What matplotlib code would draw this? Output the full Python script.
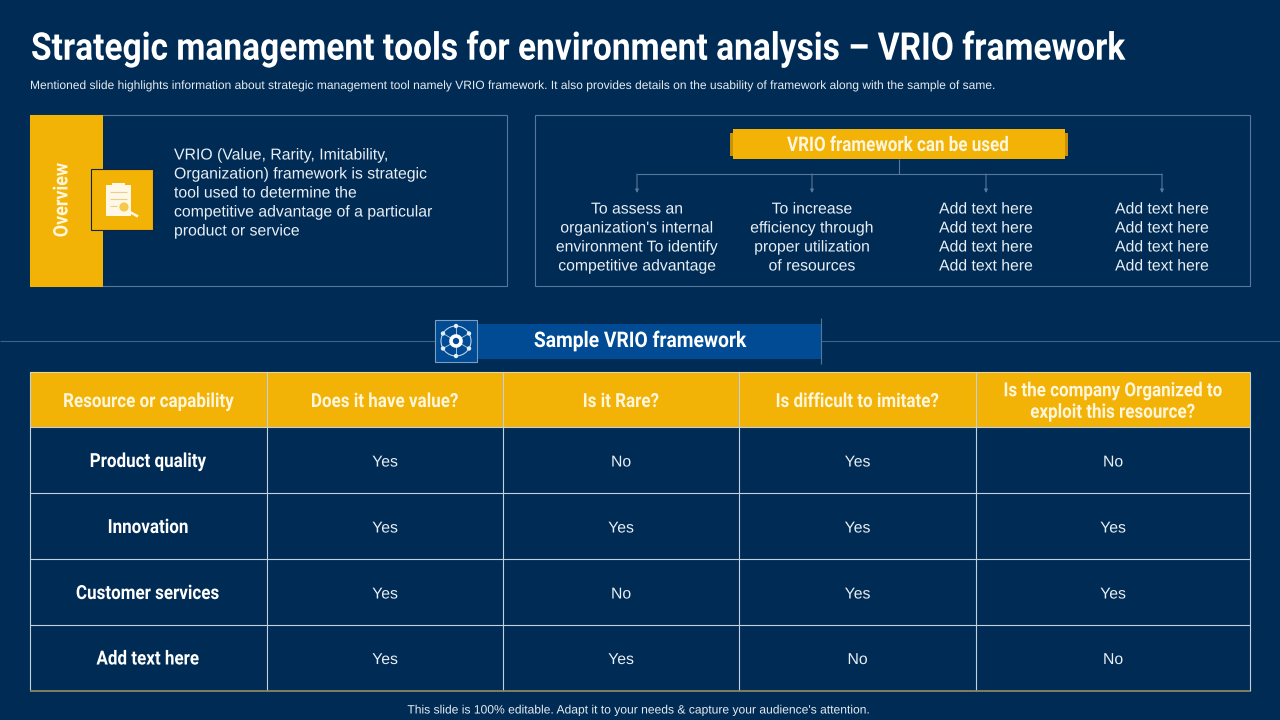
import matplotlib
matplotlib.use("Agg")
import matplotlib.pyplot as plt
from matplotlib.patches import Rectangle, Circle
from matplotlib.patheffects import AbstractPathEffect
from matplotlib.transforms import Affine2D

NAVY = '#002B55'
GOLD = '#F2B206'
BLUE = '#004B93'
LINE = '#55789B'
GRID = '#C3D0DE'
CREAM = '#FFF6DC'
SOFT = '#E9EFF5'

CONDENSED = 'Roboto'
BODY = 'Liberation Sans'

title = 'Strategic management tools for environment analysis – VRIO framework'
subtitle = ('Mentioned slide highlights information about strategic management tool namely VRIO framework. '
            'It also provides details on the usability of framework along with the sample of same.')
overview = ['VRIO (Value, Rarity, Imitability,', 'Organization) framework is strategic',
            'tool used to determine the', 'competitive advantage of a particular', 'product or service']
uses = [
    ['To assess an', "organization's internal", 'environment To identify', 'competitive advantage'],
    ['To increase', 'efficiency through', 'proper utilization', 'of resources'],
    ['Add text here'] * 4,
    ['Add text here'] * 4,
]
use_x = [637, 812, 986, 1162]
headers = ['Resource or capability', 'Does it have value?', 'Is it Rare?', 'Is difficult to imitate?',
           'Is the company Organized to\nexploit this resource?']
resources = ['Product quality', 'Innovation', 'Customer services', 'Add text here']
values = [
    ['Yes', 'No', 'Yes', 'No'],
    ['Yes', 'Yes', 'Yes', 'Yes'],
    ['Yes', 'No', 'Yes', 'Yes'],
    ['Yes', 'Yes', 'No', 'No'],
]
col_edges = [30, 267, 503, 739, 976, 1250]
row_edges = [428, 494, 560, 626, 691]


class Squeeze(AbstractPathEffect):
    # narrows the glyphs around an anchor, no condensed font is installed
    def __init__(self, anchor=0, sx=1.0, vertical=False):
        super().__init__()
        self.anchor, self.sx, self.vertical = anchor, sx, vertical

    def draw_path(self, renderer, gc, tpath, affine, rgbFace=None):
        t = Affine2D()
        if self.vertical:
            t.translate(0, -self.anchor).scale(1, self.sx).translate(0, self.anchor)
        else:
            t.translate(-self.anchor, 0).scale(self.sx, 1).translate(self.anchor, 0)
        renderer.draw_path(gc, tpath, affine + t, rgbFace)


fig = plt.figure(figsize=(12.8, 7.2), dpi=100, facecolor=NAVY)
ax = fig.add_axes([0, 0, 1, 1])
ax.set_xlim(0, 1280)
ax.set_ylim(720, 0)
ax.axis('off')


def box(x, y, w, h, fc='none', ec='none', lw=0.8, z=2):
    ax.add_patch(Rectangle((x, y), w, h, facecolor=fc, edgecolor=ec, linewidth=lw, zorder=z))


def line(xs, ys, c=LINE, lw=0.8, z=1):
    ax.plot(xs, ys, color=c, linewidth=lw, zorder=z, solid_capstyle='butt')


def txt(x, y, s, size, fam=BODY, weight='normal', ha='center', c=SOFT, sx=1.0, rotation=0, linespacing=1.2):
    t = ax.text(x, y, s, fontsize=size, family=fam, weight=weight, ha=ha, va='center', color=c, zorder=6,
                rotation=rotation, linespacing=linespacing)
    if rotation:
        t.set_path_effects([Squeeze(720 - y, sx, vertical=True)])
    else:
        t.set_path_effects([Squeeze(x, sx)])
    return t


# title
txt(31, 49, title, 27.5, CONDENSED, 'bold', ha='left', c='white', sx=0.877)
txt(30, 86, subtitle, 8.66, ha='left', c='#E6EBF0')

# overview panel
box(30, 115, 477, 171, ec=LINE)
box(30, 115, 73, 172, fc=GOLD, z=3)
txt(62, 200, 'Overview', 14.5, CONDENSED, 'bold', c=CREAM, sx=0.89, rotation=90)
box(91, 169, 62, 61, fc=GOLD, ec='#10243E', z=4)
# clipboard icon
box(106, 185, 25, 31, fc='#FFF8E6', z=5)
box(112, 183, 13, 4, fc='#FFF8E6', z=5)
for ly in [192, 199, 206]:
    line([110, 127], [ly, ly], c='#E8CF8C', lw=0.8, z=5)
ax.add_patch(Circle((124, 207), 5.5, facecolor='#F5C94A', edgecolor='#FFF8E6', linewidth=1.3, zorder=6))
line([128, 138], [211, 216.5], c='#FFF8E6', lw=1.8, z=6)
for i, s in enumerate(overview):
    txt(174, 155 + i * 19, s, 11.38, ha='left')

# usage panel
box(535, 115, 715, 171, ec=LINE)
box(730, 133, 338, 23, fc='#C8930A', z=3)
box(733, 129, 332, 30, fc=GOLD, z=4)
txt(898, 145.5, 'VRIO framework can be used', 14.5, CONDENSED, 'bold', c=CREAM, sx=0.845)
line([899, 899], [159, 174])
line([use_x[0], use_x[3]], [174, 174])
for x, rows in zip(use_x, uses):
    ax.annotate('', xy=(x, 193), xytext=(x, 174),
                arrowprops=dict(arrowstyle='-|>', color=LINE, lw=0.8, mutation_scale=5, shrinkA=0, shrinkB=0),
                zorder=2)
    for i, s in enumerate(rows):
        txt(x, 209 + i * 19, s, 11.35)

# section banner
line([0, 1280], [341, 341], c='#3F6285')
box(436, 324, 385, 35, fc=BLUE, z=3)
line([821, 821], [318, 364], c='#54779A', z=4)
box(435, 320, 42, 42, fc=BLUE, ec='#7E9EBE', z=4)
ax.add_patch(Circle((456, 341), 15, facecolor='none', edgecolor='#BFD3E6', linewidth=0.8, zorder=5))
for dx, dy in [(0, -15), (13, -7.5), (13, 7.5), (0, 15), (-13, 7.5), (-13, -7.5)]:
    line([456, 456 + dx], [341, 341 + dy], c='#BFD3E6', lw=0.6, z=5)
    ax.add_patch(Circle((456 + dx, 341 + dy), 2.2, facecolor='#E4EEF7', zorder=6))
ax.add_patch(Circle((456, 341), 5, facecolor=BLUE, edgecolor='white', linewidth=2.6, zorder=6))
txt(640, 341, 'Sample VRIO framework', 15.5, CONDENSED, 'bold', c='white', sx=0.895)

# table
box(30, 372, 1220, 56, fc=GOLD, z=2)
for j, head in enumerate(headers):
    cx = (col_edges[j] + col_edges[j + 1]) / 2
    txt(cx, 402, head, 14, CONDENSED, 'bold', c=CREAM, sx=0.875, linespacing=1.25)
for i, name in enumerate(resources):
    cy = (row_edges[i] + row_edges[i + 1]) / 2
    txt(148, cy + 1, name, 14, CONDENSED, 'bold', c='white', sx=0.875)
    for j, val in enumerate(values[i]):
        txt((col_edges[j + 1] + col_edges[j + 2]) / 2, cy + 1, val, 11.35)
for x in col_edges:
    line([x, x], [372, 691], c=GRID, z=3)
for y in row_edges[:-1]:
    line([30, 1250], [y - 1, y - 1], c=GRID, z=3)
line([30, 1250], [372, 372], c='#E8D9A0', z=3)
line([30, 1250], [691, 691], c='#8C8560', lw=1.3, z=4)

txt(640, 710.5, "This slide is 100% editable. Adapt it to your needs & capture your audience's attention.", 8.7, c='#E6EBF0')

fig.savefig('out.png', dpi=100, facecolor=NAVY)
